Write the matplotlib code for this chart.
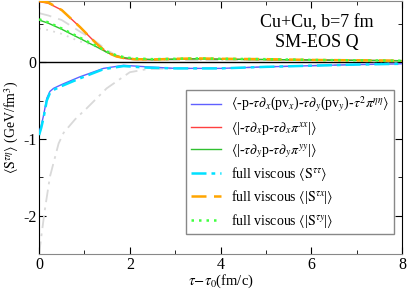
import matplotlib
matplotlib.use("Agg")
import matplotlib.pyplot as plt
import numpy as np

plt.rcParams['font.family'] = ['Liberation Serif', 'DejaVu Serif']
plt.rcParams['mathtext.fontset'] = 'stix'
plt.rcParams['axes.unicode_minus'] = False

# Data
t_up = [0.0, 0.2, 0.5, 0.9, 1.1, 1.27, 1.49, 1.7, 1.9, 2.1, 2.5, 3.0, 3.5, 4.0, 5.0, 6.0, 7.0, 8.0]
red = [0.79, 0.77, 0.68, 0.46, 0.34, 0.24, 0.13, 0.075, 0.048, 0.038, 0.033, 0.04, 0.045, 0.04, 0.035, 0.03, 0.025, 0.02]
orange = [0.80, 0.78, 0.68, 0.46, 0.34, 0.24, 0.13, 0.077, 0.05, 0.04, 0.036, 0.045, 0.05, 0.045, 0.04, 0.03, 0.025, 0.02]
green = [0.55, 0.51, 0.43, 0.31, 0.25, 0.20, 0.13, 0.085, 0.058, 0.045, 0.036, 0.04, 0.045, 0.04, 0.035, 0.03, 0.025, 0.02]
lime = [0.56, 0.52, 0.44, 0.32, 0.26, 0.21, 0.14, 0.09, 0.062, 0.05, 0.04, 0.045, 0.05, 0.045, 0.04, 0.03, 0.025, 0.02]
gray_dash = [0.64, 0.61, 0.55, 0.40, 0.33, 0.26, 0.16, 0.09, 0.05, 0.03, 0.02, 0.02, 0.025, 0.025, 0.02, 0.02, 0.015, 0.01]
gray_dot = [0.44, 0.42, 0.37, 0.27, 0.24, 0.20, 0.14, 0.09, 0.055, 0.035, 0.02, 0.02, 0.025, 0.025, 0.02, 0.02, 0.015, 0.01]

t_lo = [0.0, 0.05, 0.1, 0.17, 0.24, 0.32, 0.5, 0.9, 1.42, 1.86, 2.38, 3.0, 4.0, 5.0, 6.0, 7.0, 8.0]
blue = [-0.92, -0.82, -0.69, -0.47, -0.38, -0.34, -0.29, -0.19, -0.08, -0.04, -0.06, -0.08, -0.08, -0.06, -0.045, -0.03, -0.02]
cyan = [-0.95, -0.85, -0.72, -0.50, -0.40, -0.36, -0.31, -0.21, -0.09, -0.05, -0.07, -0.08, -0.08, -0.06, -0.045, -0.03, -0.02]
t_gdd = [0.0, 0.05, 0.12, 0.24, 0.43, 0.54, 0.8, 1.05, 1.49, 2.0, 2.38, 3.0, 4.0, 5.0, 6.0, 7.0, 8.0]
gray_dd = [-2.5, -2.27, -1.95, -1.49, -1.06, -0.92, -0.74, -0.60, -0.34, -0.13, -0.09, -0.08, -0.08, -0.06, -0.045, -0.03, -0.02]

labels = [
    r'$\langle$-p-$\tau\partial_x$(pv$_x$)-$\tau\partial_y$(pv$_y$)-$\tau^2\pi^{\eta\eta}\rangle$',
    r'$\langle$|-$\tau\partial_x$p-$\tau\partial_x\pi^{xx}$|$\rangle$',
    r'$\langle$|-$\tau\partial_y$p-$\tau\partial_y\pi^{yy}$|$\rangle$',
    r'full viscous $\langle\mathrm{S}^{\tau\tau}\rangle$',
    r'full viscous $\langle$|$\mathrm{S}^{\tau x}$|$\rangle$',
    r'full viscous $\langle$|$\mathrm{S}^{\tau y}$|$\rangle$',
]

fig = plt.figure(figsize=(4.07, 2.90), dpi=100)
ax = fig.add_axes([0.096, 0.124, 0.892, 0.873])

ax.axhline(0, color='black', lw=1.0, zorder=1)

ax.plot(t_up, gray_dash, color='#d9d9d9', lw=1.3, ls=(0, (7, 4)), zorder=2)
ax.plot(t_up, gray_dot, color='#d9d9d9', lw=1.3, ls=(0, (1, 3)), zorder=2)
ax.plot(t_gdd, gray_dd, color='#d9d9d9', lw=1.3, ls=(0, (7, 3, 1.5, 3)), zorder=2)

l1, = ax.plot(t_lo, blue, color='#6060ff', lw=1.0, zorder=3)
l2, = ax.plot(t_up, red, color='#ff4040', lw=1.0, zorder=3)
l3, = ax.plot(t_up, green, color='#30c030', lw=1.0, zorder=3)
l4, = ax.plot(t_lo, cyan, color='#00e0ff', lw=1.8, ls=(0, (6, 2, 1.5, 2)), zorder=4)
l5, = ax.plot(t_up, orange, color='#ffa500', lw=1.8, ls=(0, (6, 3)), zorder=4)
l6, = ax.plot(t_up, lime, color='#40ff40', lw=1.8, ls=(0, (1, 2)), zorder=4)

ax.set_xlim(0, 8)
ax.set_ylim(-2.5, 0.8)
ax.set_xticks([0, 2, 4, 6, 8])
ax.set_xticks([1, 3, 5, 7], minor=True)
ax.set_yticks([-2, -1, 0])
ax.set_yticks([-1.5, -0.5, 0.5], minor=True)
ax.tick_params(which='both', direction='in', top=True, right=True, labelsize=11.5)
ax.tick_params(which='major', length=5, pad=2)
ax.tick_params(which='minor', length=3)
for s in ['top', 'bottom']:
    ax.spines[s].set_color('#888888')
ax.set_xlabel(r'$\tau$$-$$\tau_0$(fm/c)', fontsize=10.5)
ax.xaxis.set_label_coords(0.5, -0.072)
ax.set_ylabel(r'$\langle\mathrm{S}^{\tau\eta}\rangle$ (GeV/fm$^3$)', fontsize=10)
ax.yaxis.set_label_coords(-0.05, 0.5)

ax.text(0.766, 0.874, 'Cu+Cu, b=7 fm\nSM-EOS Q', transform=ax.transAxes,
        ha='center', va='center', fontsize=13, linespacing=1.25)

leg = ax.legend([l1, l2, l3, l4, l5, l6], labels, loc='lower right',
                bbox_to_anchor=(0.997, 0.05), fontsize=10, frameon=True,
                fancybox=False, edgecolor='#888888', framealpha=1,
                handlelength=2.2, labelspacing=0.38, borderpad=0.35, handletextpad=0.7)
leg.get_frame().set_linewidth(1.0)

fig.savefig('out.png', dpi=100)
